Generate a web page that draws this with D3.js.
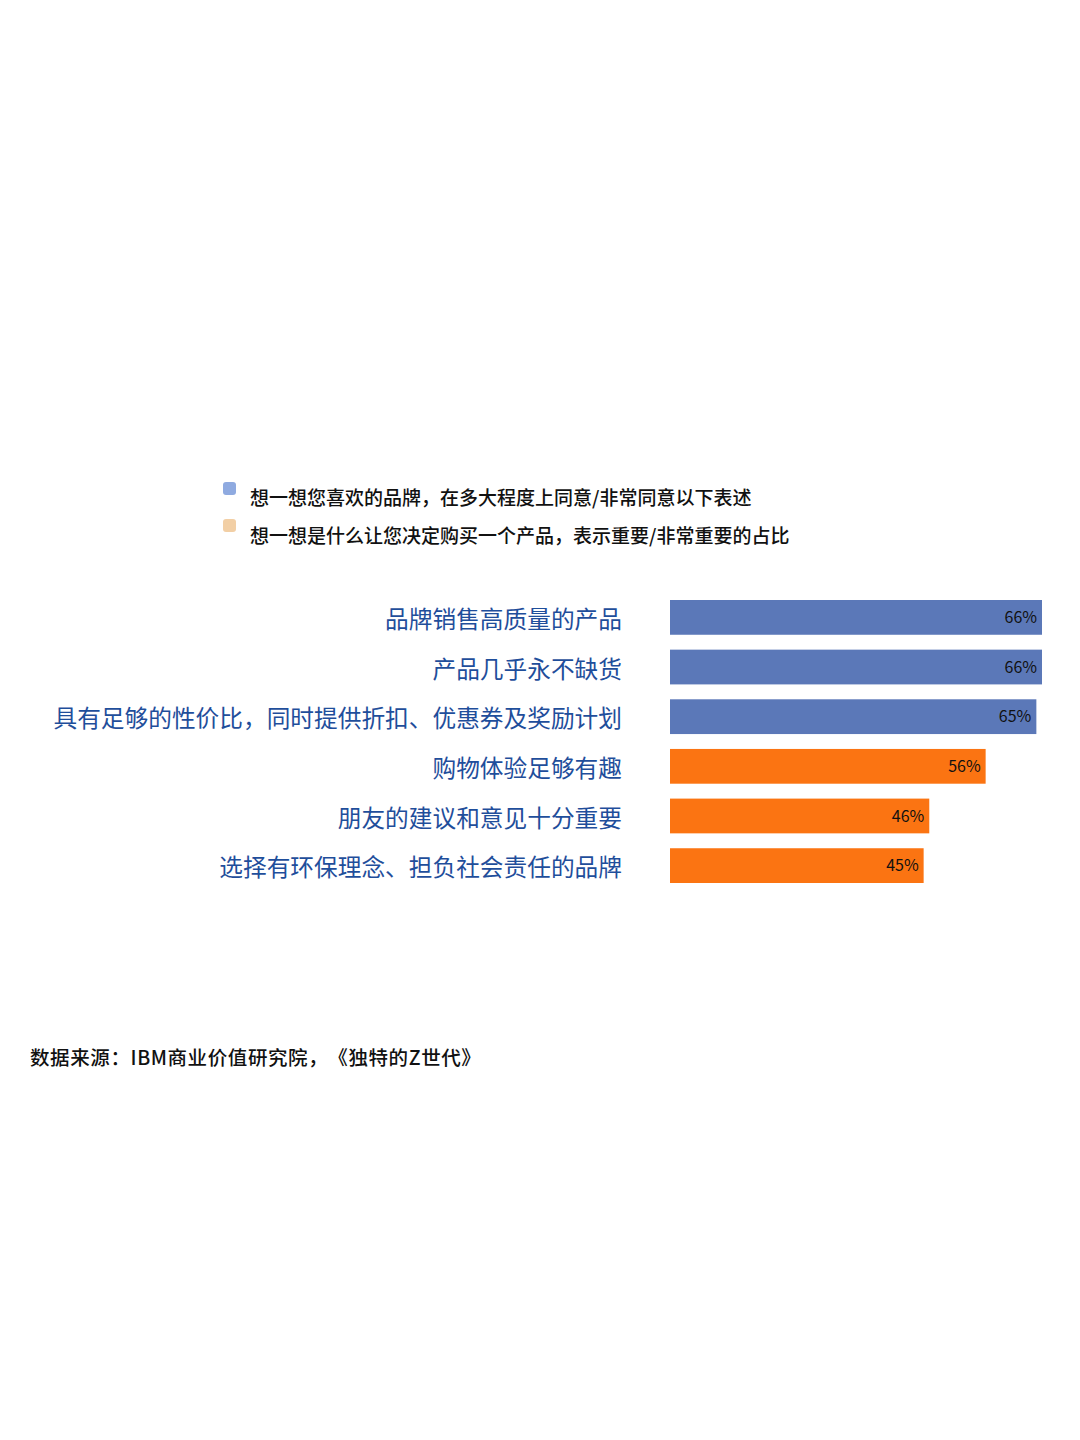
<!DOCTYPE html>
<html><head><meta charset="utf-8">
<script src="https://cdn.jsdelivr.net/npm/d3@7"></script>
<style>body{margin:0;background:#fff;}svg{display:block;}text{text-spacing-trim:space-all;font-feature-settings:"chws" 0,"halt" 0;}</style>
</head><body>
<svg id="c" width="1080" height="1440"></svg>
<script>
const categories = ["品牌销售高质量的产品","产品几乎永不缺货","具有足够的性价比，同时提供折扣、优惠券及奖励计划","购物体验足够有趣","朋友的建议和意见十分重要","选择有环保理念、担负社会责任的品牌"];
const values = [66,66,65,56,46,45];
const groups = [0,0,0,1,1,1];
const legendLabels = ["想一想您喜欢的品牌，在多大程度上同意/非常同意以下表述","想一想是什么让您决定购买一个产品，表示重要/非常重要的占比"];
const barColors = ["#5b78b8","#fb7412"];
const legendColors = ["#8faae0","#f2cfa5"];
const source = "数据来源：IBM商业价值研究院，《独特的Z世代》";

const svg = d3.select("#c");
const font = "'Noto Sans CJK SC','Noto Sans',sans-serif";
svg.append("rect").attr("width",1080).attr("height",1440).attr("fill","#fff");

const x = d3.scaleLinear().domain([0,66]).range([670,1042]);
const y = d3.scaleBand().domain(categories).range([600,883]).paddingInner(0.3).paddingOuter(0);

// legend
const lg = svg.append("g");
legendLabels.forEach((t,i)=>{
  lg.append("rect").attr("x",223).attr("y",482+i*37).attr("width",13).attr("height",13).attr("rx",3).attr("fill",legendColors[i]);
  lg.append("text").attr("x",250).attr("y",505+i*38).attr("font-family",font).attr("font-size",19).attr("font-weight",500).attr("fill","#111").text(t);
});

// bars
svg.append("g").selectAll("rect").data(values).join("rect")
  .attr("x",x(0)).attr("y",(d,i)=>y(categories[i])).attr("width",d=>x(d)-x(0)).attr("height",y.bandwidth())
  .attr("fill",(d,i)=>barColors[groups[i]]);

svg.append("g").selectAll("text").data(values).join("text")
  .attr("x",d=>x(d)-5).attr("y",(d,i)=>y(categories[i])+y.bandwidth()/2).attr("dy","0.36em")
  .attr("text-anchor","end").attr("font-family",font).attr("font-size",16).attr("fill","#111").text(d=>d+"%");

// category labels
svg.append("g").selectAll("text").data(categories).join("text")
  .attr("x",622).attr("y",d=>y(d)+y.bandwidth()/2+2).attr("dy","0.36em")
  .attr("text-anchor","end").attr("font-family",font).attr("font-size",23.7).attr("fill","#1f4e9b").text(d=>d);

svg.append("text").attr("x",30).attr("y",1065).attr("font-family",font).attr("font-size",19.5).attr("letter-spacing",0.6).attr("font-weight",500).attr("fill","#111").text(source);
</script>
</body></html>
